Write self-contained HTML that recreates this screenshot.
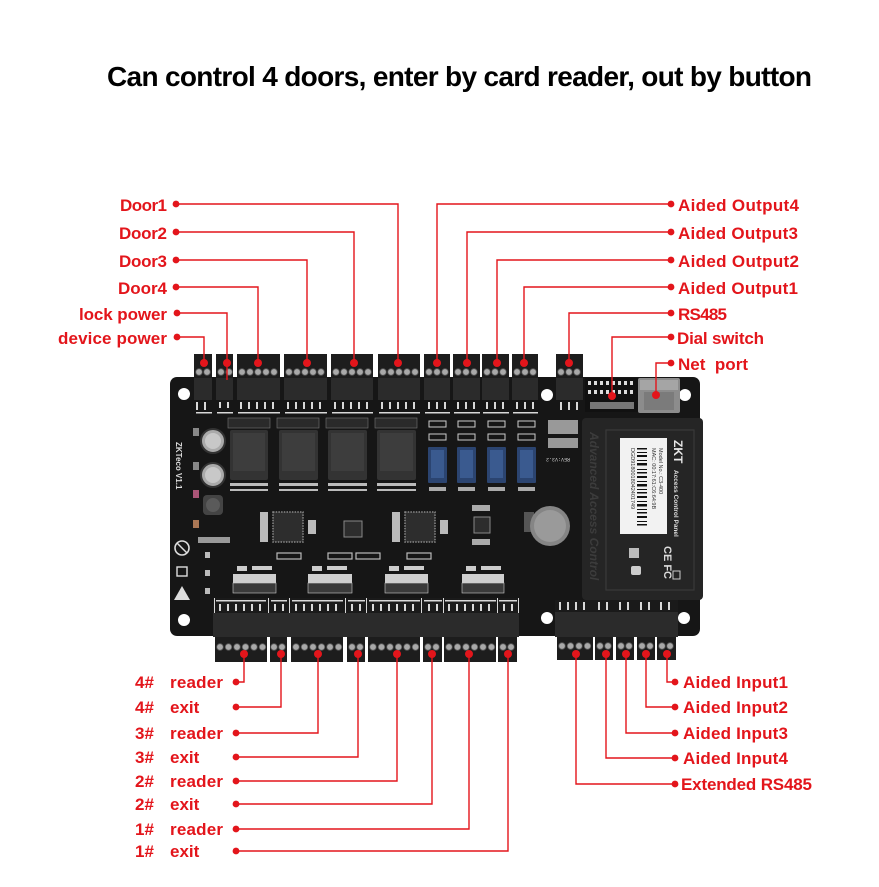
<!DOCTYPE html>
<html><head><meta charset="utf-8"><style>
html,body{margin:0;padding:0;background:#fff;}
svg{display:block;}
.lbl{font-family:"Liberation Sans",sans-serif;font-weight:bold;font-size:17px;fill:#e3151b;}
.ln{stroke:#e3151b;stroke-width:1.4;fill:none;}
.dot{fill:#e3151b;}
.sk{fill:#d8d8d8;}
</style></head><body>
<svg width="879" height="887" viewBox="0 0 879 887" xmlns="http://www.w3.org/2000/svg">
<rect width="879" height="887" fill="#fff"/>
<!-- Title -->
<text x="107" y="86" font-family="Liberation Sans, sans-serif" font-weight="bold" font-size="28" fill="#000" textLength="705">Can control 4 doors, enter by card reader, out by button</text>

<!-- ===== BOARD ===== -->
<rect x="170" y="377" width="530" height="259" rx="7" fill="#161616"/>
<!-- mounting holes -->
<g fill="#fff">
<circle cx="184" cy="394" r="6"/><circle cx="547" cy="395" r="6"/><circle cx="685" cy="395" r="6"/>
<circle cx="184" cy="620" r="6"/><circle cx="547" cy="618" r="6"/><circle cx="684" cy="618" r="6"/>
</g>

<!-- top terminal blocks -->
<g id="topblocks">
<g fill="#1d1d1d">
<rect x="194" y="354" width="18" height="24"/><rect x="216" y="354" width="17" height="24"/>
<rect x="237" y="354" width="43" height="24"/><rect x="284" y="354" width="43" height="24"/>
<rect x="331" y="354" width="42" height="24"/><rect x="378" y="354" width="42" height="24"/>
<rect x="424" y="354" width="26" height="24"/><rect x="453" y="354" width="27" height="24"/>
<rect x="482" y="354" width="27" height="24"/><rect x="512" y="354" width="26" height="24"/>
<rect x="556" y="354" width="27" height="24"/>
</g>
<g fill="#2b2b2b">
<rect x="194" y="378" width="18" height="22"/><rect x="216" y="378" width="17" height="22"/>
<rect x="237" y="378" width="43" height="22"/><rect x="284" y="378" width="43" height="22"/>
<rect x="331" y="378" width="42" height="22"/><rect x="378" y="378" width="42" height="22"/>
<rect x="424" y="378" width="26" height="22"/><rect x="453" y="378" width="27" height="22"/>
<rect x="482" y="378" width="27" height="22"/><rect x="512" y="378" width="26" height="22"/>
<rect x="556" y="378" width="27" height="22"/>
</g>
<g fill="#a9a9a9" stroke="#555" stroke-width="0.8">
<circle cx="199" cy="372" r="3.3"/><circle cx="207" cy="372" r="3.3"/>
<circle cx="221" cy="372" r="3.3"/><circle cx="229" cy="372" r="3.3"/>
<circle cx="242" cy="372" r="3.3"/><circle cx="250" cy="372" r="3.3"/><circle cx="258" cy="372" r="3.3"/><circle cx="266" cy="372" r="3.3"/><circle cx="274" cy="372" r="3.3"/>
<circle cx="289" cy="372" r="3.3"/><circle cx="297" cy="372" r="3.3"/><circle cx="305" cy="372" r="3.3"/><circle cx="313" cy="372" r="3.3"/><circle cx="321" cy="372" r="3.3"/>
<circle cx="336" cy="372" r="3.3"/><circle cx="344" cy="372" r="3.3"/><circle cx="352" cy="372" r="3.3"/><circle cx="360" cy="372" r="3.3"/><circle cx="368" cy="372" r="3.3"/>
<circle cx="383" cy="372" r="3.3"/><circle cx="391" cy="372" r="3.3"/><circle cx="399" cy="372" r="3.3"/><circle cx="407" cy="372" r="3.3"/><circle cx="415" cy="372" r="3.3"/>
<circle cx="429" cy="372" r="3.3"/><circle cx="437" cy="372" r="3.3"/><circle cx="445" cy="372" r="3.3"/>
<circle cx="458" cy="372" r="3.3"/><circle cx="466" cy="372" r="3.3"/><circle cx="474" cy="372" r="3.3"/>
<circle cx="487" cy="372" r="3.3"/><circle cx="495" cy="372" r="3.3"/><circle cx="503" cy="372" r="3.3"/>
<circle cx="517" cy="372" r="3.3"/><circle cx="525" cy="372" r="3.3"/><circle cx="533" cy="372" r="3.3"/>
<circle cx="561" cy="372" r="3.3"/><circle cx="569" cy="372" r="3.3"/><circle cx="577" cy="372" r="3.3"/>
</g>
</g>
<!-- top silkscreen strips -->
<g class="sk">
<rect x="196" y="402" width="2" height="8"/><rect x="204" y="402" width="2" height="8"/><rect x="196" y="412" width="16" height="1.5"/>
<rect x="219" y="402" width="2" height="6"/><rect x="227" y="402" width="2" height="6"/><rect x="217" y="412" width="16" height="1.5"/>
<rect x="240" y="402" width="2" height="7"/><rect x="248" y="402" width="2" height="7"/><rect x="256" y="402" width="2" height="7"/><rect x="264" y="402" width="2" height="7"/><rect x="272" y="402" width="2" height="7"/><rect x="238" y="412" width="42" height="1.5"/>
<rect x="287" y="402" width="2" height="7"/><rect x="295" y="402" width="2" height="7"/><rect x="303" y="402" width="2" height="7"/><rect x="311" y="402" width="2" height="7"/><rect x="319" y="402" width="2" height="7"/><rect x="285" y="412" width="42" height="1.5"/>
<rect x="334" y="402" width="2" height="7"/><rect x="342" y="402" width="2" height="7"/><rect x="350" y="402" width="2" height="7"/><rect x="358" y="402" width="2" height="7"/><rect x="366" y="402" width="2" height="7"/><rect x="332" y="412" width="41" height="1.5"/>
<rect x="381" y="402" width="2" height="7"/><rect x="389" y="402" width="2" height="7"/><rect x="397" y="402" width="2" height="7"/><rect x="405" y="402" width="2" height="7"/><rect x="413" y="402" width="2" height="7"/><rect x="379" y="412" width="41" height="1.5"/>
<rect x="428" y="402" width="2" height="7"/><rect x="436" y="402" width="2" height="7"/><rect x="444" y="402" width="2" height="7"/><rect x="425" y="412" width="25" height="1.5"/>
<rect x="457" y="402" width="2" height="7"/><rect x="465" y="402" width="2" height="7"/><rect x="473" y="402" width="2" height="7"/><rect x="454" y="412" width="26" height="1.5"/>
<rect x="486" y="402" width="2" height="7"/><rect x="494" y="402" width="2" height="7"/><rect x="502" y="402" width="2" height="7"/><rect x="483" y="412" width="26" height="1.5"/>
<rect x="516" y="402" width="2" height="7"/><rect x="524" y="402" width="2" height="7"/><rect x="532" y="402" width="2" height="7"/><rect x="513" y="412" width="25" height="1.5"/>
<rect x="560" y="402" width="2" height="8"/><rect x="568" y="402" width="2" height="8"/><rect x="576" y="402" width="2" height="8"/>
</g>

<!-- dial switch & net port -->
<rect x="585" y="378" width="53" height="34" fill="#111"/>
<g fill="#ddd">
<rect x="588" y="381" width="3" height="4"/><rect x="594" y="381" width="3" height="4"/><rect x="600" y="381" width="3" height="4"/><rect x="606" y="381" width="3" height="4"/><rect x="612" y="381" width="3" height="4"/><rect x="618" y="381" width="3" height="4"/><rect x="624" y="381" width="3" height="4"/><rect x="630" y="381" width="3" height="4"/>
<rect x="588" y="390" width="3" height="4"/><rect x="594" y="390" width="3" height="4"/><rect x="600" y="390" width="3" height="4"/><rect x="606" y="390" width="3" height="4"/><rect x="612" y="390" width="3" height="4"/><rect x="618" y="390" width="3" height="4"/><rect x="624" y="390" width="3" height="4"/><rect x="630" y="390" width="3" height="4"/>
</g>
<rect x="590" y="402" width="44" height="7" fill="#777"/>
<rect x="638" y="378" width="42" height="35" rx="2" fill="#8c8c8c"/>
<rect x="640" y="380" width="38" height="10" fill="#a5a5a5"/>
<rect x="644" y="392" width="30" height="18" fill="#7b7b7b"/>

<!-- left side components -->
<circle cx="213" cy="441" r="12" fill="#aaa" stroke="#333" stroke-width="2"/>
<circle cx="213" cy="441" r="8" fill="#c8c8c8"/>
<circle cx="213" cy="475" r="12" fill="#aaa" stroke="#333" stroke-width="2"/>
<circle cx="213" cy="475" r="8" fill="#c8c8c8"/>
<rect x="203" y="495" width="20" height="20" rx="4" fill="#444"/>
<circle cx="213" cy="505" r="7" fill="#5a5a5a"/>
<rect x="193" y="428" width="6" height="8" fill="#888"/><rect x="193" y="462" width="6" height="8" fill="#888"/>
<rect x="193" y="490" width="6" height="8" fill="#a57"/><rect x="193" y="520" width="6" height="8" fill="#a75"/>
<text x="0" y="0" transform="translate(176,442) rotate(90)" font-family="Liberation Sans, sans-serif" font-weight="bold" font-size="8" fill="#ddd">ZKTeco  V1.1</text>
<!-- ESD icons -->
<circle cx="182" cy="548" r="7" fill="none" stroke="#ddd" stroke-width="1.6"/>
<path d="M177 543 L187 553" stroke="#ddd" stroke-width="1.5"/>
<rect x="177" y="567" width="10" height="9" fill="none" stroke="#ddd" stroke-width="1.4"/>
<path d="M174 600 L182 586 L190 600 Z" fill="#ddd"/>
<g fill="#bbb"><rect x="205" y="552" width="5" height="6"/><rect x="205" y="570" width="5" height="6"/><rect x="205" y="588" width="5" height="6"/></g>
<rect x="198" y="537" width="32" height="6" fill="#999"/>

<!-- relays -->
<g>
<rect x="228" y="418" width="42" height="10" fill="#2a2a2a" stroke="#777" stroke-width="0.6"/>
<rect x="277" y="418" width="42" height="10" fill="#2a2a2a" stroke="#777" stroke-width="0.6"/>
<rect x="326" y="418" width="42" height="10" fill="#2a2a2a" stroke="#777" stroke-width="0.6"/>
<rect x="375" y="418" width="42" height="10" fill="#2a2a2a" stroke="#777" stroke-width="0.6"/>
<rect x="230" y="430" width="38" height="50" rx="2" fill="#333"/>
<rect x="279" y="430" width="39" height="50" rx="2" fill="#333"/>
<rect x="328" y="430" width="39" height="50" rx="2" fill="#333"/>
<rect x="377" y="430" width="39" height="50" rx="2" fill="#333"/>
<rect x="233" y="433" width="32" height="38" fill="#3d3d3d"/>
<rect x="282" y="433" width="33" height="38" fill="#3d3d3d"/>
<rect x="331" y="433" width="33" height="38" fill="#3d3d3d"/>
<rect x="380" y="433" width="33" height="38" fill="#3d3d3d"/>
<g fill="#bbb">
<rect x="230" y="483" width="38" height="3"/><rect x="279" y="483" width="39" height="3"/><rect x="328" y="483" width="39" height="3"/><rect x="377" y="483" width="39" height="3"/>
<rect x="230" y="489" width="38" height="2"/><rect x="279" y="489" width="39" height="2"/><rect x="328" y="489" width="39" height="2"/><rect x="377" y="489" width="39" height="2"/>
</g>
</g>
<!-- fuses & blue relays -->
<g fill="none" stroke="#ccc" stroke-width="1">
<rect x="429" y="421" width="17" height="6"/><rect x="429" y="434" width="17" height="6"/>
<rect x="458" y="421" width="17" height="6"/><rect x="458" y="434" width="17" height="6"/>
<rect x="488" y="421" width="17" height="6"/><rect x="488" y="434" width="17" height="6"/>
<rect x="518" y="421" width="17" height="6"/><rect x="518" y="434" width="17" height="6"/>
</g>
<g fill="#2b4470">
<rect x="428" y="447" width="19" height="36" rx="1"/>
<rect x="457" y="447" width="19" height="36" rx="1"/>
<rect x="487" y="447" width="19" height="36" rx="1"/>
<rect x="517" y="447" width="19" height="36" rx="1"/>
</g>
<g fill="#3a5a8f">
<rect x="431" y="450" width="13" height="28"/><rect x="460" y="450" width="13" height="28"/><rect x="490" y="450" width="13" height="28"/><rect x="520" y="450" width="13" height="28"/>
</g>
<g fill="#aaa">
<rect x="429" y="487" width="17" height="4"/><rect x="458" y="487" width="17" height="4"/><rect x="488" y="487" width="17" height="4"/><rect x="518" y="487" width="17" height="4"/>
</g>
<g fill="#999"><rect x="548" y="420" width="30" height="14"/><rect x="548" y="438" width="30" height="10"/></g>
<text x="550" y="462" transform="rotate(180 560 460)" font-family="Liberation Mono, monospace" font-size="5" fill="#ccc">REV:V3.2</text>

<!-- chips -->
<rect x="260" y="512" width="8" height="30" fill="#bbb"/>
<rect x="273" y="512" width="30" height="30" fill="#2d2d2d" stroke="#888" stroke-width="1.5" stroke-dasharray="1.5 1.2"/>
<rect x="308" y="520" width="8" height="14" fill="#bbb"/>
<rect x="405" y="512" width="30" height="30" fill="#2d2d2d" stroke="#888" stroke-width="1.5" stroke-dasharray="1.5 1.2"/>
<rect x="392" y="512" width="8" height="30" fill="#bbb"/>
<rect x="440" y="520" width="8" height="14" fill="#bbb"/>
<rect x="344" y="521" width="18" height="16" fill="#2d2d2d" stroke="#888" stroke-width="1"/>
<rect x="474" y="517" width="16" height="16" fill="#2d2d2d" stroke="#888" stroke-width="1"/>
<rect x="472" y="505" width="18" height="6" fill="#aaa"/><rect x="472" y="539" width="18" height="6" fill="#aaa"/>
<g fill="none" stroke="#bbb" stroke-width="1.2">
<rect x="277" y="553" width="24" height="6"/><rect x="328" y="553" width="24" height="6"/><rect x="356" y="553" width="24" height="6"/><rect x="407" y="553" width="24" height="6"/>
</g>
<!-- coin battery -->
<rect x="524" y="512" width="10" height="20" fill="#555"/>
<circle cx="550" cy="526" r="20" fill="#858585"/>
<circle cx="550" cy="526" r="16" fill="#9a9a9a"/>

<!-- transistor arrays -->
<g>
<rect x="233" y="574" width="43" height="9" fill="#cfcfcf"/><rect x="233" y="583" width="43" height="10" fill="#3a3a3a" stroke="#ccc" stroke-width="0.6"/>
<rect x="308" y="574" width="44" height="9" fill="#cfcfcf"/><rect x="308" y="583" width="44" height="10" fill="#3a3a3a" stroke="#ccc" stroke-width="0.6"/>
<rect x="385" y="574" width="43" height="9" fill="#cfcfcf"/><rect x="385" y="583" width="43" height="10" fill="#3a3a3a" stroke="#ccc" stroke-width="0.6"/>
<rect x="462" y="574" width="42" height="9" fill="#cfcfcf"/><rect x="462" y="583" width="42" height="10" fill="#3a3a3a" stroke="#ccc" stroke-width="0.6"/>
<g fill="#ccc"><rect x="237" y="566" width="10" height="5"/><rect x="252" y="566" width="20" height="4"/><rect x="312" y="566" width="10" height="5"/><rect x="327" y="566" width="20" height="4"/><rect x="389" y="566" width="10" height="5"/><rect x="404" y="566" width="20" height="4"/><rect x="466" y="566" width="10" height="5"/><rect x="481" y="566" width="20" height="4"/></g>
</g>

<!-- bottom-left terminal band -->
<rect x="213" y="598" width="306" height="15" fill="#1a1a1a"/>
<g class="sk">
<rect x="216" y="600" width="50" height="1.5"/><rect x="271" y="600" width="16" height="1.5"/><rect x="292" y="600" width="51" height="1.5"/><rect x="348" y="600" width="17" height="1.5"/><rect x="369" y="600" width="51" height="1.5"/><rect x="424" y="600" width="18" height="1.5"/><rect x="445" y="600" width="51" height="1.5"/><rect x="499" y="600" width="18" height="1.5"/>
<rect x="214" y="598" width="1" height="15"/><rect x="268" y="598" width="1" height="15"/><rect x="289" y="598" width="1" height="15"/><rect x="345" y="598" width="1" height="15"/><rect x="366" y="598" width="1" height="15"/><rect x="421" y="598" width="1" height="15"/><rect x="443" y="598" width="1" height="15"/><rect x="497" y="598" width="1" height="15"/><rect x="518" y="598" width="1" height="15"/>
</g>
<g class="sk">
<rect x="219" y="604" width="2" height="7"/><rect x="227" y="604" width="2" height="7"/><rect x="235" y="604" width="2" height="7"/><rect x="243" y="604" width="2" height="7"/><rect x="251" y="604" width="2" height="7"/><rect x="259" y="604" width="2" height="7"/>
<rect x="274" y="604" width="2" height="7"/><rect x="282" y="604" width="2" height="7"/>
<rect x="295" y="604" width="2" height="7"/><rect x="303" y="604" width="2" height="7"/><rect x="311" y="604" width="2" height="7"/><rect x="319" y="604" width="2" height="7"/><rect x="327" y="604" width="2" height="7"/><rect x="335" y="604" width="2" height="7"/>
<rect x="351" y="604" width="2" height="7"/><rect x="359" y="604" width="2" height="7"/>
<rect x="372" y="604" width="2" height="7"/><rect x="380" y="604" width="2" height="7"/><rect x="388" y="604" width="2" height="7"/><rect x="396" y="604" width="2" height="7"/><rect x="404" y="604" width="2" height="7"/><rect x="412" y="604" width="2" height="7"/>
<rect x="428" y="604" width="2" height="7"/><rect x="436" y="604" width="2" height="7"/>
<rect x="448" y="604" width="2" height="7"/><rect x="456" y="604" width="2" height="7"/><rect x="464" y="604" width="2" height="7"/><rect x="472" y="604" width="2" height="7"/><rect x="480" y="604" width="2" height="7"/><rect x="488" y="604" width="2" height="7"/>
<rect x="503" y="604" width="2" height="7"/><rect x="511" y="604" width="2" height="7"/>
</g>
<rect x="213" y="613" width="306" height="24" fill="#2b2b2b"/>
<g fill="#1d1d1d">
<rect x="215" y="637" width="52" height="25"/><rect x="270" y="637" width="17" height="25"/><rect x="291" y="637" width="52" height="25"/><rect x="347" y="637" width="18" height="25"/>
<rect x="368" y="637" width="52" height="25"/><rect x="423" y="637" width="19" height="25"/><rect x="444" y="637" width="52" height="25"/><rect x="498" y="637" width="19" height="25"/>
</g>
<g fill="#a9a9a9" stroke="#555" stroke-width="0.8">
<circle cx="220" cy="647" r="3.3"/><circle cx="228.5" cy="647" r="3.3"/><circle cx="237" cy="647" r="3.3"/><circle cx="245.5" cy="647" r="3.3"/><circle cx="254" cy="647" r="3.3"/><circle cx="262.5" cy="647" r="3.3"/>
<circle cx="274" cy="647" r="3.3"/><circle cx="282" cy="647" r="3.3"/>
<circle cx="296" cy="647" r="3.3"/><circle cx="304.5" cy="647" r="3.3"/><circle cx="313" cy="647" r="3.3"/><circle cx="321.5" cy="647" r="3.3"/><circle cx="330" cy="647" r="3.3"/><circle cx="338.5" cy="647" r="3.3"/>
<circle cx="352" cy="647" r="3.3"/><circle cx="360" cy="647" r="3.3"/>
<circle cx="373" cy="647" r="3.3"/><circle cx="381.5" cy="647" r="3.3"/><circle cx="390" cy="647" r="3.3"/><circle cx="398.5" cy="647" r="3.3"/><circle cx="407" cy="647" r="3.3"/><circle cx="415.5" cy="647" r="3.3"/>
<circle cx="428" cy="647" r="3.3"/><circle cx="436" cy="647" r="3.3"/>
<circle cx="449" cy="647" r="3.3"/><circle cx="457.5" cy="647" r="3.3"/><circle cx="466" cy="647" r="3.3"/><circle cx="474.5" cy="647" r="3.3"/><circle cx="483" cy="647" r="3.3"/><circle cx="491.5" cy="647" r="3.3"/>
<circle cx="503" cy="647" r="3.3"/><circle cx="511" cy="647" r="3.3"/>
</g>

<!-- bottom-right terminal band -->
<rect x="555" y="600" width="123" height="12" fill="#1a1a1a"/>
<g class="sk">
<rect x="559" y="602" width="2" height="8"/><rect x="567" y="602" width="2" height="8"/><rect x="575" y="602" width="2" height="8"/><rect x="583" y="602" width="2" height="8"/>
<rect x="598" y="602" width="2" height="8"/><rect x="606" y="602" width="2" height="8"/>
<rect x="619" y="602" width="2" height="8"/><rect x="627" y="602" width="2" height="8"/>
<rect x="640" y="602" width="2" height="8"/><rect x="648" y="602" width="2" height="8"/>
<rect x="660" y="602" width="2" height="8"/><rect x="668" y="602" width="2" height="8"/>
</g>
<rect x="555" y="612" width="123" height="25" fill="#2b2b2b"/>
<g fill="#1d1d1d">
<rect x="557" y="637" width="36" height="23"/><rect x="595" y="637" width="18" height="23"/><rect x="616" y="637" width="18" height="23"/><rect x="637" y="637" width="18" height="23"/><rect x="657" y="637" width="19" height="23"/>
</g>
<g fill="#a9a9a9" stroke="#555" stroke-width="0.8">
<circle cx="562" cy="646" r="3.3"/><circle cx="570.5" cy="646" r="3.3"/><circle cx="579" cy="646" r="3.3"/><circle cx="587.5" cy="646" r="3.3"/>
<circle cx="600" cy="646" r="3.3"/><circle cx="608" cy="646" r="3.3"/>
<circle cx="621" cy="646" r="3.3"/><circle cx="629" cy="646" r="3.3"/>
<circle cx="642" cy="646" r="3.3"/><circle cx="650" cy="646" r="3.3"/>
<circle cx="662" cy="646" r="3.3"/><circle cx="670" cy="646" r="3.3"/>
</g>

<!-- ZKTeco module -->
<rect x="582" y="418" width="121" height="182" rx="4" fill="#252525"/>
<rect x="606" y="430" width="88" height="160" fill="none" stroke="#3a3a3a" stroke-width="1.2"/>
<text transform="translate(590,432) rotate(90)" font-family="Liberation Sans, sans-serif" font-weight="bold" font-style="italic" font-size="12" fill="#3c3c3c">Advanced Access Control</text>
<rect x="620" y="438" width="47" height="96" fill="#f2f2f2"/>
<g fill="#111">
<rect x="637" y="448" width="10" height="1.5"/><rect x="637" y="452" width="10" height="1"/><rect x="637" y="455" width="10" height="2"/><rect x="637" y="460" width="10" height="1"/><rect x="637" y="463" width="10" height="2.5"/><rect x="637" y="469" width="10" height="1"/><rect x="637" y="472" width="10" height="1.5"/><rect x="637" y="476" width="10" height="2"/><rect x="637" y="481" width="10" height="1"/><rect x="637" y="484" width="10" height="2.5"/><rect x="637" y="489" width="10" height="1"/><rect x="637" y="492" width="10" height="1.5"/><rect x="637" y="496" width="10" height="2"/><rect x="637" y="501" width="10" height="1"/><rect x="637" y="504" width="10" height="2.5"/><rect x="637" y="509" width="10" height="1"/><rect x="637" y="512" width="10" height="1.5"/><rect x="637" y="516" width="10" height="2"/><rect x="637" y="521" width="10" height="1"/><rect x="637" y="524" width="10" height="1.5"/>
</g>
<text transform="translate(652,448) rotate(90)" font-family="Liberation Sans, sans-serif" font-size="5.5" fill="#333">MAC: 00:17:61:C6:64:9B</text>
<text transform="translate(631,448) rotate(90)" font-family="Liberation Sans, sans-serif" font-size="5.5" fill="#333">DGD9180018042401749</text>
<text transform="translate(659,448) rotate(90)" font-family="Liberation Sans, sans-serif" font-size="5.5" fill="#333">Model No.: C3-400</text>
<text transform="translate(674,440) rotate(90)" font-family="Liberation Sans, sans-serif" font-weight="bold" font-size="12" fill="#e8e8e8">ZKT</text>
<text transform="translate(674,470) rotate(90)" font-family="Liberation Sans, sans-serif" font-weight="bold" font-size="6.5" fill="#ddd">Access Control Panel</text>
<text transform="translate(664,546) rotate(90)" font-family="Liberation Sans, sans-serif" font-weight="bold" font-size="11" fill="#ddd">CE FC</text>
<rect x="629" y="548" width="10" height="10" fill="#bbb"/>
<rect x="631" y="566" width="10" height="9" rx="2" fill="#ccc"/>
<rect x="673" y="571" width="7" height="8" fill="none" stroke="#ccc" stroke-width="1"/>

<!-- ===== CONNECTORS ===== -->
<g class="ln">
<polyline points="176,204 398,204 398,363"/>
<polyline points="176,232 354,232 354,363"/>
<polyline points="176,260 307,260 307,363"/>
<polyline points="176,287 258,287 258,363"/>
<polyline points="177,313 227,313 227,380"/>
<polyline points="177,337 204,337 204,363"/>
<polyline points="671,204 437,204 437,363"/>
<polyline points="671,232 467,232 467,363"/>
<polyline points="671,260 497,260 497,363"/>
<polyline points="671,287 524,287 524,363"/>
<polyline points="671,313 569,313 569,363"/>
<polyline points="671,337 612,337 612,396"/>
<polyline points="671,363 656,363 656,395"/>
<polyline points="236,682 244,682 244,655"/>
<polyline points="236,707 281,707 281,655"/>
<polyline points="236,733 318,733 318,655"/>
<polyline points="236,757 358,757 358,655"/>
<polyline points="236,781 397,781 397,655"/>
<polyline points="236,804 432,804 432,655"/>
<polyline points="236,829 469,829 469,655"/>
<polyline points="236,851 508,851 508,655"/>
<polyline points="675,682 667,682 667,655"/>
<polyline points="675,707 646,707 646,655"/>
<polyline points="675,733 626,733 626,655"/>
<polyline points="675,758 606,758 606,655"/>
<polyline points="675,784 576,784 576,655"/>
</g>
<g class="dot">
<circle cx="176" cy="204" r="3.4"/><circle cx="176" cy="232" r="3.4"/><circle cx="176" cy="260" r="3.4"/><circle cx="176" cy="287" r="3.4"/><circle cx="177" cy="313" r="3.4"/><circle cx="177" cy="337" r="3.4"/>
<circle cx="398" cy="363" r="4"/><circle cx="354" cy="363" r="4"/><circle cx="307" cy="363" r="4"/><circle cx="258" cy="363" r="4"/><circle cx="227" cy="363" r="4"/><circle cx="204" cy="363" r="4"/>
<circle cx="671" cy="204" r="3.4"/><circle cx="671" cy="232" r="3.4"/><circle cx="671" cy="260" r="3.4"/><circle cx="671" cy="287" r="3.4"/><circle cx="671" cy="313" r="3.4"/><circle cx="671" cy="337" r="3.4"/><circle cx="671" cy="363" r="3.4"/>
<circle cx="437" cy="363" r="4"/><circle cx="467" cy="363" r="4"/><circle cx="497" cy="363" r="4"/><circle cx="524" cy="363" r="4"/><circle cx="569" cy="363" r="4"/><circle cx="612" cy="396" r="4"/><circle cx="656" cy="395" r="4"/>
<circle cx="236" cy="682" r="3.4"/><circle cx="236" cy="707" r="3.4"/><circle cx="236" cy="733" r="3.4"/><circle cx="236" cy="757" r="3.4"/><circle cx="236" cy="781" r="3.4"/><circle cx="236" cy="804" r="3.4"/><circle cx="236" cy="829" r="3.4"/><circle cx="236" cy="851" r="3.4"/>
<circle cx="244" cy="654" r="4"/><circle cx="281" cy="654" r="4"/><circle cx="318" cy="654" r="4"/><circle cx="358" cy="654" r="4"/><circle cx="397" cy="654" r="4"/><circle cx="432" cy="654" r="4"/><circle cx="469" cy="654" r="4"/><circle cx="508" cy="654" r="4"/>
<circle cx="675" cy="682" r="3.4"/><circle cx="675" cy="707" r="3.4"/><circle cx="675" cy="733" r="3.4"/><circle cx="675" cy="758" r="3.4"/><circle cx="675" cy="784" r="3.4"/>
<circle cx="667" cy="654" r="4"/><circle cx="646" cy="654" r="4"/><circle cx="626" cy="654" r="4"/><circle cx="606" cy="654" r="4"/><circle cx="576" cy="654" r="4"/>
</g>

<!-- ===== LABELS ===== -->
<g class="lbl">
<text x="167" y="211" text-anchor="end" textLength="47">Door1</text>
<text x="167" y="239" text-anchor="end" textLength="48">Door2</text>
<text x="167" y="267" text-anchor="end" textLength="48">Door3</text>
<text x="167" y="294" text-anchor="end" textLength="49">Door4</text>
<text x="167" y="320" text-anchor="end" textLength="88">lock power</text>
<text x="167" y="344" text-anchor="end" textLength="109">device power</text>

<text x="678" y="211" textLength="121">Aided Output4</text>
<text x="678" y="239" textLength="120">Aided Output3</text>
<text x="678" y="267" textLength="121">Aided Output2</text>
<text x="678" y="294" textLength="120">Aided Output1</text>
<text x="678" y="320" textLength="49">RS485</text>
<text x="677" y="344" textLength="87">Dial switch</text>
<text x="678" y="370" textLength="70" xml:space="preserve">Net  port</text>

<text x="135" y="688">4#</text><text x="170" y="688" textLength="53">reader</text>
<text x="135" y="713">4#</text><text x="170" y="713">exit</text>
<text x="135" y="739">3#</text><text x="170" y="739" textLength="53">reader</text>
<text x="135" y="763">3#</text><text x="170" y="763">exit</text>
<text x="135" y="787">2#</text><text x="170" y="787" textLength="53">reader</text>
<text x="135" y="810">2#</text><text x="170" y="810">exit</text>
<text x="135" y="835">1#</text><text x="170" y="835" textLength="53">reader</text>
<text x="135" y="857">1#</text><text x="170" y="857">exit</text>

<text x="683" y="688" textLength="105">Aided Input1</text>
<text x="683" y="713" textLength="105">Aided Input2</text>
<text x="683" y="739" textLength="105">Aided Input3</text>
<text x="683" y="764" textLength="105">Aided Input4</text>
<text x="681" y="790" textLength="131">Extended RS485</text>
</g>
</svg>
</body></html>
